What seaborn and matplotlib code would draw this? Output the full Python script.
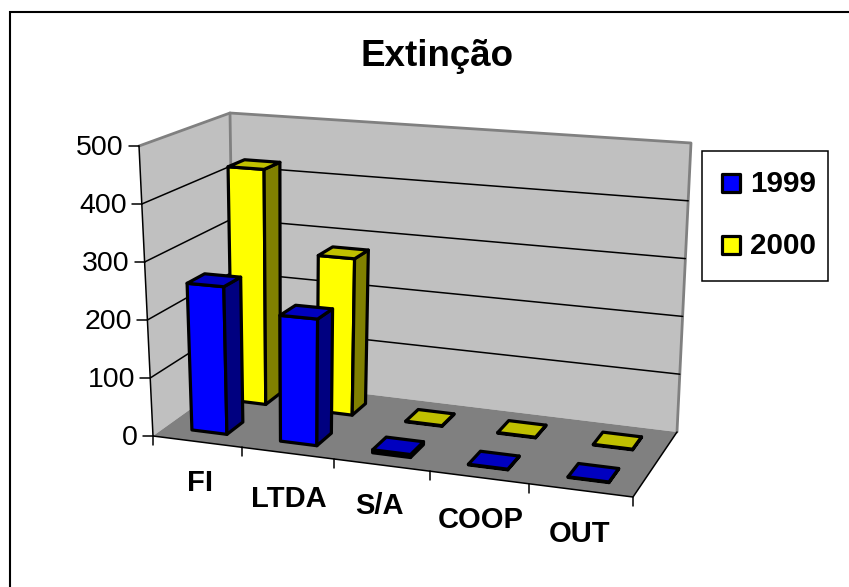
import numpy as np
import matplotlib
matplotlib.use("Agg")
import matplotlib.pyplot as plt
import seaborn as sns

categories = ["FI", "LTDA", "S/A", "COOP", "OUT"]
values_1999 = [255, 215, 5, 1, 1]
values_2000 = [425, 278, 1, 1, 1]
y_ticks = [0, 100, 200, 300, 400, 500]
y_max = 500
series = ["1999", "2000"]
colors = {"1999": ("#0000FF", "#000080", "#0000C0"),
          "2000": ("#FFFF00", "#808000", "#C0C000")}

# Projected corners of the 3-D box, in pixels (front-left, front-right, back-right, back-left)
floor_px = [(153, 436), (633, 497), (677, 432), (234, 378)]
top_px = [(139, 146), (650, 179), (691, 143), (230, 113)]
PERSPECTIVE_WARP = 0.0125


def homography(dst):
    src = [(0, 0), (5, 0), (5, 1), (0, 1)]
    A, b = [], []
    for (u, v), (x, y) in zip(src, dst):
        A.append([u, v, 1, 0, 0, 0, -u * x, -v * x]); b.append(x)
        A.append([0, 0, 0, u, v, 1, -u * y, -v * y]); b.append(y)
    return np.append(np.linalg.solve(np.array(A, float), np.array(b, float)), 1).reshape(3, 3)


H_floor, H_top = homography(floor_px), homography(top_px)


def project(u, d, value):
    w = u - PERSPECTIVE_WARP * u * (5 - u)

    def ap(H):
        p = H @ np.array([w, d, 1.0])
        return p[:2] / p[2]
    f, t = ap(H_floor), ap(H_top)
    return tuple(f + (t - f) * value / y_max)


sns.set_theme(style="white")
plt.rcParams["font.family"] = ["Liberation Sans", "DejaVu Sans"]
fig, ax = plt.subplots(figsize=(8.49, 5.87), dpi=100)
ax.set_position([0, 0, 1, 1])
ax.set_xlim(0, 849)
ax.set_ylim(587, 0)
ax.axis("off")
fig.patch.set_facecolor("white")

# Chart frame: only its left and top edges fall inside the picture
ax.plot([10, 10, 849], [587, 12, 12], color="black", lw=1.5, zorder=1, solid_joinstyle="miter")

WALL, FLOOR, EDGE = "#C0C0C0", "#808080", "#808080"
# Walls and floor
ax.fill(*zip(project(0, 0, 0), project(0, 0, y_max), project(0, 1, y_max), project(0, 1, 0)), fc=WALL, ec="none", zorder=1)
ax.fill(*zip(project(0, 1, 0), project(0, 1, y_max), project(5, 1, y_max), project(5, 1, 0)), fc=WALL, ec="none", zorder=1)
ax.fill(*zip(project(0, 0, 0), project(5, 0, 0), project(5, 1, 0), project(0, 1, 0)), fc=FLOOR, ec="none", zorder=1)

# Wall edges
ax.plot(*zip(project(0, 0, y_max), project(0, 1, y_max), project(5, 1, y_max), project(5, 1, 0)),
        color=EDGE, lw=2.0, zorder=2, solid_joinstyle="round")
ax.plot(*zip(project(0, 1, y_max), project(0, 1, 0)), color=EDGE, lw=2.0, zorder=2)

# Gridlines
for t in y_ticks[1:-1]:
    ax.plot(*zip(project(0, 0, t), project(0, 1, t), project(5, 1, t)), color="black", lw=1.1, zorder=2)

# Axes
ax.plot(*zip(project(0, 0, y_max), project(0, 0, 0), project(5, 0, 0), project(5, 1, 0)), color="black", lw=1.1, zorder=2)

# y ticks and labels
for t in y_ticks:
    x, y = project(0, 0, t)
    ax.plot([x - 10, x], [y, y], color="black", lw=1.1, zorder=2)
    ax.text(x - 15, y + 2, str(t), ha="right", va="center", fontsize=20.5, color="black")

# x ticks and labels
label_dx = [3, 2, -2, 2, -1]
label_dy = [41, 46, 41, 43, 44]
for i in range(6):
    x, y = project(i, 0, 0)
    ax.plot([x, x], [y, y + 9], color="black", lw=1.1, zorder=2)
for i, c in enumerate(categories):
    x, y = project(i + 0.5, 0, 0)
    ax.text(x + label_dx[i], y + label_dy[i], c, ha="center", va="center", fontsize=21, fontweight="bold", color="black")


def draw_bar(i, row, value, cols):
    front, side, top = cols
    u0, u1 = i + 0.3, i + 0.7
    d0, d1 = row / 2 + 0.15, row / 2 + 0.35
    kw = dict(ec="black", lw=2.3, joinstyle="round", zorder=3 + (1 - row))
    ax.fill(*zip(project(u0, d0, 0), project(u1, d0, 0), project(u1, d0, value), project(u0, d0, value)), fc=front, **kw)
    ax.fill(*zip(project(u1, d0, 0), project(u1, d1, 0), project(u1, d1, value), project(u1, d0, value)), fc=side, **kw)
    ax.fill(*zip(project(u0, d0, value), project(u1, d0, value), project(u1, d1, value), project(u0, d1, value)), fc=top, **kw)


for row, (name, vals) in reversed(list(enumerate(zip(series, [values_1999, values_2000])))):
    for i, v in enumerate(vals):
        draw_bar(i, row, v, colors[name])

# Legend
ax.add_patch(plt.Rectangle((702, 151), 126, 130, fc="white", ec="black", lw=1.1, zorder=5))
for name, yc in zip(series, [183, 245]):
    ax.add_patch(plt.Rectangle((722, yc - 9), 18, 18, fc=colors[name][0], ec="black", lw=2.3, zorder=6,
                               joinstyle="round"))
    ax.text(750, yc + 1, name, ha="left", va="center", fontsize=21.3, fontweight="bold", color="black", zorder=6)

# Title
ax.text(437, 56, "Extinção", ha="center", va="center", fontsize=26.5, fontweight="bold", color="black")

fig.savefig("out.png", dpi=100)
